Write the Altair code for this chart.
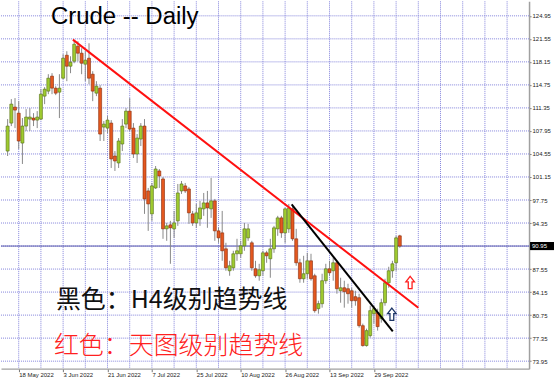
import altair as alt
import numpy as np
import pandas as pd

# Daily OHLC bars, bar index 0 = 18 May 2022
first_bar = -3
opens = [104.98, 109.11, 111.47, 110.58, 106.16, 108.67, 109.70, 109.85, 109.55, 109.70,
         113.09, 113.83, 116.04, 114.27, 113.68, 115.74, 119.13, 117.51, 118.25, 120.46,
         119.43, 117.81, 118.69, 116.33, 113.53, 114.27, 108.52, 108.37, 109.11, 104.25,
         103.22, 106.02, 108.96, 110.88, 108.37, 104.54, 106.75, 108.67, 99.09, 95.70,
         99.53, 102.04, 100.86, 93.49, 94.08, 93.49, 94.67, 99.09, 99.83, 99.38,
         95.70, 94.37, 94.96, 96.44, 97.32, 96.44, 97.62, 93.19, 92.90, 90.54,
         87.30, 87.74, 89.81, 89.81, 90.98, 92.16, 91.43, 87.59, 86.56, 87.30,
         89.95, 89.07, 90.54, 93.49, 95.11, 92.90, 93.49, 96.44, 92.02, 88.48,
         86.12, 86.86, 88.77, 86.56, 81.70, 82.44, 85.83, 87.59, 87.30, 88.48,
         84.35, 84.79, 84.65, 84.35, 83.47, 83.32, 79.19, 76.25, 77.72, 80.96,
         81.11, 80.23, 82.58, 85.53, 87.30, 88.48, 92.46]
highs = [109.70, 112.65, 112.80, 112.35, 109.85, 111.17, 111.32, 110.58, 110.88, 114.12,
         114.42, 116.33, 116.48, 114.56, 116.33, 119.28, 119.72, 118.98, 121.34, 121.20,
         120.16, 119.72, 120.90, 116.77, 115.30, 114.71, 109.41, 110.14, 109.55, 104.98,
         106.90, 109.70, 111.32, 112.80, 109.11, 107.49, 109.11, 109.70, 99.53, 100.27,
         102.77, 102.33, 101.15, 94.37, 94.67, 96.14, 100.12, 100.56, 100.27, 99.68,
         96.14, 97.17, 97.62, 98.79, 99.09, 101.01, 97.91, 93.64, 96.14, 91.43,
         88.77, 90.25, 92.02, 91.72, 94.37, 94.23, 91.72, 88.77, 88.33, 90.25,
         90.25, 92.02, 93.93, 95.41, 95.41, 96.58, 97.17, 96.88, 93.49, 89.07,
         89.51, 89.95, 89.81, 86.86, 82.88, 86.86, 88.33, 88.77, 89.22, 88.77,
         86.27, 85.83, 85.38, 84.79, 84.35, 83.91, 79.49, 78.75, 82.14, 82.14,
         81.70, 83.17, 86.12, 87.89, 88.77, 92.46, 92.61]
lows = [104.25, 108.67, 108.37, 105.28, 103.07, 107.93, 107.93, 108.67, 108.37, 109.55,
        111.91, 113.38, 113.38, 113.24, 109.85, 115.60, 115.30, 116.48, 117.95, 118.25,
        116.33, 115.30, 114.86, 112.35, 113.09, 106.46, 106.46, 107.64, 102.48, 102.04,
        102.48, 104.98, 108.37, 107.93, 103.95, 103.22, 105.72, 95.70, 93.19, 94.67,
        99.38, 99.53, 92.02, 91.72, 88.33, 92.16, 93.93, 98.65, 98.79, 94.23,
        93.93, 93.64, 93.93, 95.41, 93.64, 95.11, 91.72, 91.43, 88.77, 87.30,
        86.56, 87.30, 88.77, 89.22, 90.25, 91.72, 87.30, 86.27, 85.83, 86.56,
        88.48, 86.27, 89.95, 92.46, 92.16, 91.43, 92.90, 91.72, 88.04, 85.53,
        85.53, 86.12, 85.83, 81.11, 80.96, 81.85, 85.38, 86.56, 85.83, 83.91,
        82.58, 81.85, 82.44, 81.85, 82.14, 78.90, 76.10, 76.10, 77.43, 79.49,
        78.46, 79.64, 82.14, 84.79, 86.27, 87.30, 90.69]
closes = [108.67, 111.91, 111.03, 106.46, 108.67, 110.00, 110.00, 109.55, 110.00, 113.38,
          114.12, 115.74, 114.27, 113.53, 114.27, 118.69, 117.51, 118.10, 120.75, 119.43,
          117.95, 118.40, 115.74, 113.83, 114.56, 107.49, 108.96, 109.55, 103.81, 103.51,
          106.46, 108.67, 110.88, 108.23, 104.54, 106.90, 108.67, 97.91, 97.17, 99.83,
          102.33, 101.30, 93.49, 93.93, 93.64, 94.37, 98.79, 100.12, 99.09, 95.85,
          94.37, 95.85, 96.58, 97.32, 96.58, 97.62, 93.19, 92.16, 90.25, 87.74,
          88.04, 89.81, 90.25, 90.98, 93.49, 93.49, 87.74, 86.56, 87.45, 89.95,
          89.51, 90.54, 93.64, 95.11, 92.90, 96.44, 96.58, 92.02, 88.48, 86.12,
          86.86, 88.77, 86.12, 81.41, 82.44, 85.83, 87.59, 87.01, 88.48, 84.65,
          84.79, 84.21, 83.91, 82.88, 82.88, 79.19, 76.25, 78.46, 81.41, 81.70,
          79.05, 82.58, 85.53, 87.30, 88.33, 92.16, 90.95]

# Axis ticks and grid positions
price_ticks = [73.95, 77.35, 80.75, 84.15, 87.55, 90.95, 94.35, 97.75,
               101.15, 104.55, 107.95, 111.35, 114.75, 118.15, 121.55, 124.95]
date_bars = [0, 12, 24, 36, 48, 60, 72, 84, 96]
date_labels = ["18 May 2022", "3 Jun 2022", "21 Jun 2022", "7 Jul 2022", "25 Jul 2022",
               "10 Aug 2022", "26 Aug 2022", "13 Sep 2022", "29 Sep 2022"]
grid_bars = [0, 6, 12, 18, 24, 30, 36, 42, 48, 54, 60, 66, 72, 78, 84, 90,
             96, 102, 108, 114, 120, 126, 132]

# Trend lines (bar index, price)
trend_names = ["daily", "daily", "h4", "h4"]
trend_bars = [14.64, 108.0, 73.77, 101.1]
trend_prices = [121.44, 81.84, 97.12, 78.34]

# Up-arrow signals
arrow_bars = [105.8, 100.85]
arrow_prices = [85.55, 80.85]
arrow_colors = ["#ff2020", "#1d3566"]

last_price = 90.95
chart_title = "Crude -- Daily"
note_black = "黑色：H4级别趋势线"
note_red = "红色：天图级别趋势线"

bars = list(range(first_bar, first_bar + len(opens)))
candles = pd.DataFrame({"bar": bars, "open": opens, "high": highs,
                        "low": lows, "close": closes})
candles["dir"] = np.where(candles["close"] >= candles["open"], "up", "down")

x_scale = alt.Scale(domain=[-3.44, 136.58], nice=False, zero=False)
y_scale = alt.Scale(domain=[72.84, 127.09], nice=False, zero=False)
GRID = "#8585dc"
AXIS_FONT = "Liberation Sans"

label_expr = " : ".join(
    f"datum.value == {b} ? '{t}'" for b, t in zip(date_bars, date_labels)
) + " : ''"

x_axis = alt.Axis(values=date_bars, labelExpr=label_expr, labelAlign="left",
                  labelFontSize=6, labelFont=AXIS_FONT, labelColor="#222222",
                  labelPadding=0, tickSize=3, tickColor="#777777",
                  domainColor="#a0a0a0", domainWidth=1.3, grid=False,
                  labelFlush=False, labelOverlap=False, title=None)
y_axis = alt.Axis(values=price_ticks, format=".2f", orient="right",
                  labelFontSize=6, labelFont=AXIS_FONT, labelColor="#222222",
                  labelPadding=1, tickSize=2, tickColor="#777777",
                  domainColor="#a0a0a0", domainWidth=1.5, grid=False,
                  labelOverlap=False, labelFlush=False, labelBound=False, title=None)


def X(field):
    return alt.X(field, type="quantitative", scale=x_scale, axis=x_axis)


def Y(field):
    return alt.Y(field, type="quantitative", scale=y_scale, axis=y_axis)


# dotted grid
vgrid = alt.Chart(pd.DataFrame({"g": grid_bars})).mark_rule(
    color=GRID, strokeDash=[1, 1], strokeWidth=1
).encode(x=X("g"))
hgrid = alt.Chart(pd.DataFrame({"p": price_ticks})).mark_rule(
    color=GRID, strokeDash=[1, 1], strokeWidth=1
).encode(y=Y("p"))

# current price line
price_df = pd.DataFrame({"p": [last_price], "top": [last_price + 0.6],
                         "bot": [last_price - 0.6], "lbl": [f"{last_price:.2f}"]})
price_line = alt.Chart(price_df).mark_rule(color="#5c5cb0", strokeWidth=1).encode(y=Y("p"))

wicks = alt.Chart(candles).mark_rule(color="#8a8a8a", strokeWidth=1).encode(
    x=X("bar"), y=Y("low"), y2="high:Q",
)
bodies = alt.Chart(candles).mark_bar(size=3, strokeWidth=0.6).encode(
    x=X("bar"), y=Y("open"), y2="close:Q",
    fill=alt.Fill("dir:N", scale=alt.Scale(domain=["up", "down"],
                                           range=["#9fcb2f", "#e4581f"]), legend=None),
    stroke=alt.Stroke("dir:N", scale=alt.Scale(domain=["up", "down"],
                                               range=["#566f16", "#8a2c0c"]), legend=None),
)

trend_df = pd.DataFrame({"name": trend_names, "bar": trend_bars, "price": trend_prices})
trends = alt.Chart(trend_df).mark_line(strokeWidth=2).encode(
    x=X("bar"), y=Y("price"),
    detail="name:N",
    color=alt.Color("name:N", scale=alt.Scale(domain=["daily", "h4"],
                                              range=["#ff1010", "#000000"]), legend=None),
)

ARROW = "M0,-1 L0.68,-0.12 L0.3,-0.12 L0.3,0.95 L-0.3,0.95 L-0.3,-0.12 L-0.68,-0.12 Z"
arrow_df = pd.DataFrame({"bar": arrow_bars, "price": arrow_prices, "c": arrow_colors})
arrows = alt.Chart(arrow_df).mark_point(
    shape=ARROW, size=160, filled=True, fill="white", strokeWidth=1.3, opacity=1
).encode(
    x=X("bar"), y=Y("price"),
    stroke=alt.Stroke("c:N", scale=None),
)

price_box = alt.Chart(price_df).mark_rect(color="black").encode(
    x=alt.value(530), x2=alt.value(554), y=Y("top"), y2="bot:Q",
)
price_text = alt.Chart(price_df).mark_text(
    align="left", baseline="middle", color="white", fontSize=6, font=AXIS_FONT
).encode(x=alt.value(532), y=Y("p"), text="lbl:N")

one = pd.DataFrame({"t": [0]})
title_text = alt.Chart(one).mark_text(
    text=chart_title, align="left", baseline="alphabetic", fontSize=24,
    font="Liberation Sans", color="black"
).encode(x=alt.value(50), y=alt.value(23))
black_note = alt.Chart(one).mark_text(
    text=note_black, align="left", baseline="middle", fontSize=25,
    font="Noto Sans CJK SC", color="#111111"
).encode(x=alt.value(55), y=alt.value(299))
red_note = alt.Chart(one).mark_text(
    text=note_red, align="left", baseline="middle", fontSize=25,
    font="Noto Sans CJK SC", fontWeight=300, color="#ff2020"
).encode(x=alt.value(53), y=alt.value(345))

chart = alt.layer(
    vgrid, hgrid, price_line, wicks, bodies, trends, arrows, price_box, price_text,
    title_text, black_note, red_note
).properties(
    width=529, height=368,
    padding={"left": 0, "top": 0, "right": 0, "bottom": 0},
    background="white",
).configure_view(stroke=None)

chart.save("out.html", embed_options={"renderer": "svg", "actions": False})
